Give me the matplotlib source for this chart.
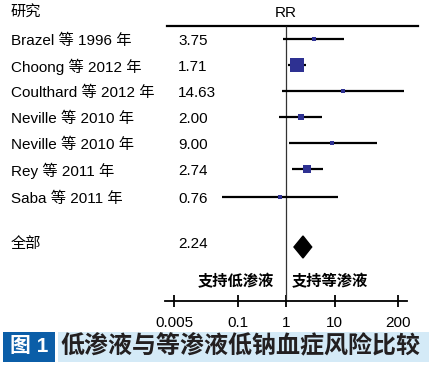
import matplotlib.pyplot as plt
import numpy as np
from matplotlib.patches import Rectangle

# study data
studies = ['Brazel 等 1996 年', 'Choong 等 2012 年', 'Coulthard 等 2012 年',
           'Neville 等 2010 年', 'Neville 等 2010 年', 'Rey 等 2011 年', 'Saba 等 2011 年']
rr = [3.75, 1.71, 14.63, 2.00, 9.00, 2.74, 0.76]
ci_low = [0.88, 1.11, 0.84, 0.73, 1.17, 1.33, 0.047]
ci_high = [15.9, 2.55, 270, 5.5, 75, 5.9, 11.6]
weights = [3, 35, 2, 8, 2, 13, 2]

overall_label = '全部'
overall_rr = 2.24
overall_low = 1.46
overall_high = 3.39

ticks = [0.005, 0.1, 1, 10, 200]
tick_labels = ['0.005', '0.1', '1', '10', '200']
favour_left = '支持低渗液'
favour_right = '支持等渗液'
caption_tag = '图 1'
caption = '低渗液与等渗液低钠血症风险比较'

fam = ['Liberation Sans', 'Noto Sans CJK SC']
plt.rcParams['font.family'] = fam

W, H = 429, 367
fig = plt.figure(figsize=(W / 100, H / 100), dpi=100)

# canvas axes in pixel units for text and caption
canvas = fig.add_axes([0, 0, 1, 1])
canvas.set_xlim(0, W)
canvas.set_ylim(H, 0)
canvas.axis('off')

# forest axes, log scale: 1 at x=286px, 48.5 px per decade
x1, dec = 286, 48.5
left_px, right_px, axis_y = 160, 420, 301
ax = fig.add_axes([left_px / W, (H - axis_y) / H, (right_px - left_px) / W, axis_y / H])
ax.set_xscale('log')
ax.set_xlim(10 ** ((left_px - x1) / dec), 10 ** ((right_px - x1) / dec))
ax.set_ylim(axis_y, 0)
ax.patch.set_alpha(0)
for s in ['top', 'left', 'right']:
    ax.spines[s].set_visible(False)
ax.spines['bottom'].set_linewidth(1.3)
ax.spines['bottom'].set_bounds(10 ** ((165 - x1) / dec), 10 ** ((407 - x1) / dec))
ax.set_yticks([])
ax.set_xticks(ticks)
ax.set_xticklabels(tick_labels)
ax.minorticks_off()
ax.tick_params(axis='x', direction='inout', length=9, width=1.3, pad=6, labelsize=11)

row0, step = 39, 26
ys = [row0 + i * step for i in range(len(studies))]
ys[-1] += 2  # last study sits a little lower
y_all = row0 + (len(studies) + 1) * step

# header line and reference line
top_y = 26
ax.axhline(top_y, xmin=(167 - left_px) / (right_px - left_px), xmax=(418 - left_px) / (right_px - left_px),
           color='black', lw=1.6)
ax.vlines(1, top_y, axis_y, color='#333333', lw=0.9)

# CIs and boxes
ax.hlines(ys, ci_low, ci_high, color='black', lw=1.6)
for y, r, w in zip(ys, rr, weights):
    ax.plot(r, y, marker='s', color='#2e3192', markersize=np.sqrt(w) * 2.2 * 0.72, markeredgewidth=0,
            zorder=3)

# overall diamond
ax.fill([overall_low, overall_rr, overall_high, overall_rr],
        [y_all, y_all - 11, y_all, y_all + 11], color='black')

# texts
canvas.text(11, 13, '研究', fontsize=11, va='center', ha='left')
canvas.text(286, 13, 'RR', fontsize=11, va='center', ha='center')
for y, name, r in zip(ys, studies, rr):
    canvas.text(11, y + 2, name, fontsize=11, va='center', ha='left')
    canvas.text(178, y + 2, f'{r:.2f}', fontsize=11, va='center', ha='left')
canvas.text(11, y_all - 3, overall_label, fontsize=11, va='center', ha='left')
canvas.text(178, y_all - 3, f'{overall_rr:.2f}', fontsize=11, va='center', ha='left')

canvas.text(274, 282, favour_left, fontsize=11, va='center', ha='right', fontweight='bold')
canvas.text(292, 282, favour_right, fontsize=11, va='center', ha='left', fontweight='bold')

# caption
canvas.add_patch(Rectangle((3, 332), 52, 30, color='#0b5ea8', lw=0))
canvas.add_patch(Rectangle((58, 332), 371, 30, color='#d4eaf7', lw=0))
canvas.text(29, 347, caption_tag, fontsize=15, color='white', fontweight='bold', va='center', ha='center')
canvas.text(60, 347, caption, fontsize=17.3, color='#231f20', fontweight='bold', va='center', ha='left')

plt.savefig('out.png', dpi=100)
plt.close()
